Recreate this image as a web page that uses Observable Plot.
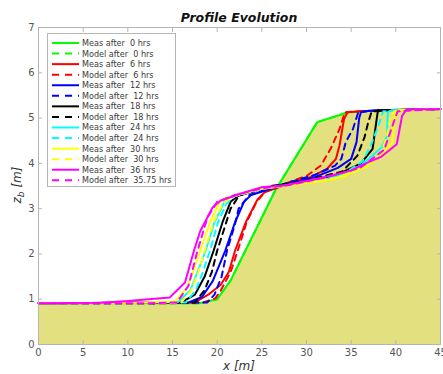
<!DOCTYPE html>
<html><head><meta charset="utf-8">
<script src="https://cdn.jsdelivr.net/npm/d3@7"></script>
<script src="https://cdn.jsdelivr.net/npm/@observablehq/plot@0.6"></script>
<style>body{margin:0;background:#fff;} svg{display:block;}</style>
</head><body><div id="chart"></div>
<script>
const xTicks = [0,5,10,15,20,25,30,35,40,45];
const yTicks = [0,1,2,3,4,5,6,7];
const labels = ["Meas after  0 hrs","Model after  0 hrs","Meas after  6 hrs","Model after  6 hrs","Meas after  12 hrs","Model after  12 hrs","Meas after  18 hrs","Model after  18 hrs","Meas after  24 hrs","Model after  24 hrs","Meas after  30 hrs","Model after  30 hrs","Meas after  36 hrs","Model after  35.75 hrs"];
const colors = ["#00ff00","#00ff00","#ff0000","#ff0000","#0000ff","#0000ff","#000000","#000000","#00ffff","#00ffff","#ffff00","#ffff00","#ff00ff","#ff00ff"];

const meas0 = [[0,0.91],[18,0.91],[20,1.0],[21.5,1.41],[26.5,3.4],[31.2,4.91],[34.7,5.13],[38,5.17],[45,5.2]];
const model0 = [[0,0.91],[18,0.91],[20,1.0],[21.5,1.41],[26.5,3.4],[31.2,4.91],[34.7,5.13],[38,5.17],[45,5.2]];
const meas6 = [[0,0.91],[11,0.92],[17.5,0.93],[19,1.1],[20.4,1.32],[21.3,1.6],[22,2.07],[23.2,2.7],[24.5,3.2],[25.3,3.36],[28,3.55],[30.5,3.7],[32.3,3.88],[33.3,4.1],[33.7,4.4],[34.2,4.98],[34.6,5.13],[36,5.15],[45,5.2]];
const model6 = [[0,0.91],[14,0.91],[18.5,0.93],[19.8,1.02],[20.4,1.19],[21.5,1.6],[22.3,2.07],[23.3,2.7],[24.4,3.15],[25.4,3.38],[28,3.58],[30,3.72],[31.6,3.95],[32.7,4.32],[33.7,4.76],[34.3,5.13],[36,5.15],[45,5.2]];
const meas12 = [[0,0.91],[11,0.92],[16.8,0.93],[18.3,1.05],[19.5,1.4],[20.9,2.07],[22.0,2.7],[23.0,3.15],[23.8,3.3],[27,3.5],[31,3.7],[33.5,3.9],[35,4.1],[35.6,4.47],[35.9,5.0],[36.1,5.13],[37,5.16],[45,5.2]];
const model12 = [[0,0.91],[12,0.91],[18.9,0.93],[19.7,1.1],[20.5,1.5],[21.1,2.07],[22.0,2.66],[22.4,3.0],[23.6,3.3],[27,3.52],[31,3.75],[33.2,3.95],[33.9,4.1],[34.4,4.47],[35.2,4.76],[35.8,5.13],[37,5.16],[45,5.2]];
const meas18 = [[0,0.91],[11,0.92],[16,0.93],[17.5,1.1],[18.6,1.5],[19.6,2.07],[20.6,2.7],[21.5,3.15],[22.3,3.28],[25.6,3.47],[29.4,3.58],[33.1,3.72],[36.1,4.0],[37.4,4.32],[37.8,4.9],[38.0,5.17],[45,5.2]];
const model18 = [[0,0.91],[12,0.91],[17.5,0.93],[18.6,1.2],[19.4,1.6],[20.0,2.07],[20.7,2.5],[21.5,3.0],[22.5,3.3],[26,3.5],[30,3.62],[34,3.82],[35.7,4.17],[36.5,4.58],[36.9,4.9],[37.3,5.15],[45,5.2]];
const meas24 = [[0,0.91],[11,0.92],[15.6,0.94],[17,1.2],[17.8,1.6],[18.7,2.07],[19.7,2.7],[20.8,3.15],[21.6,3.27],[25,3.44],[29,3.55],[33,3.68],[36.1,3.95],[38.4,4.35],[39.0,4.6],[39.1,5.13],[39.5,5.17],[45,5.2]];
const model24 = [[0,0.91],[12,0.91],[16.5,0.93],[17.6,1.2],[18.4,1.6],[19.2,2.07],[20.1,2.7],[21.0,3.1],[22,3.28],[25.5,3.46],[30,3.58],[34,3.75],[36.3,4.05],[37.2,4.4],[38,4.8],[38.6,5.15],[45,5.2]];
const meas30 = [[0,0.91],[11,0.92],[15.3,0.95],[16.6,1.25],[17.3,1.6],[18.1,2.07],[19.2,2.7],[20.2,3.12],[21.0,3.24],[24.5,3.42],[28.5,3.53],[33,3.65],[36.5,3.92],[38.4,4.2],[39.6,4.45],[39.9,5.1],[40.3,5.17],[45,5.2]];
const model30 = [[0,0.91],[12,0.91],[16,0.93],[17.1,1.2],[17.9,1.6],[18.6,2.07],[19.6,2.7],[20.6,3.1],[21.5,3.25],[25,3.44],[29,3.55],[34,3.7],[37,3.95],[38.3,4.2],[39,4.6],[39.4,5.0],[39.8,5.15],[45,5.2]];
const meas36 = [[0,0.91],[7,0.92],[10,0.96],[14.7,1.04],[16.4,1.37],[17.4,2.07],[18.1,2.5],[19.5,3.03],[20.4,3.18],[22.6,3.33],[24.9,3.47],[27.5,3.51],[31.2,3.66],[35,3.84],[36.5,3.99],[38.4,4.15],[40.1,4.42],[40.7,5.05],[41.2,5.19],[45,5.2]];
const model36 = [[0,0.91],[12,0.91],[15.5,0.93],[16.8,1.3],[17.7,2.0],[18.9,2.8],[20,3.15],[22,3.3],[25,3.45],[28,3.52],[32,3.68],[36,3.9],[38.7,4.3],[39.5,4.76],[40.2,5.15],[45,5.2]];

const profiles = [meas0, model0, meas6, model6, meas12, model12, meas18, model18, meas24, model24, meas30, model30, meas36, model36];

const W = 443, H = 374;
const mL = 38, mR = 3, mT = 27, mB = 30;
const gray = "#555";

const lineMarks = profiles.map((p, i) => Plot.line(p, {
  x: d => d[0], y: d => d[1], stroke: colors[i], strokeWidth: 2,
  strokeDasharray: i % 2 === 1 ? "6,5" : null
}));

const chart = Plot.plot({
  width: W, height: H,
  marginLeft: mL, marginRight: mR, marginTop: mT, marginBottom: mB,
  style: {fontFamily: "DejaVu Sans, sans-serif", fontSize: "10px", color: gray, background: "#fff"},
  x: {domain: [0, 45]},
  y: {domain: [0, 7]},
  marks: [
    Plot.areaY(meas0, {x: d => d[0], y: d => d[1], fill: "#e3e07f"}),
    ...lineMarks,
    Plot.frame({stroke: "#b5b5b5", strokeWidth: 1}),
    Plot.axisX(xTicks, {anchor: "bottom", tickSize: -4, tickPadding: 8, stroke: "#b5b5b5", fill: gray, label: null}),
    Plot.axisX(xTicks, {anchor: "top", tickSize: -4, text: null, stroke: "#b5b5b5", label: null}),
    Plot.axisY(yTicks, {anchor: "left", tickSize: -4, tickPadding: 8, stroke: "#b5b5b5", fill: gray, label: null}),
    Plot.axisY(yTicks, {anchor: "right", tickSize: -4, text: null, stroke: "#b5b5b5", label: null})
  ]
});
document.getElementById("chart").appendChild(chart);

const svg = d3.select(chart);
// title and axis labels
svg.append("text").attr("x", 239).attr("y", 22).attr("text-anchor", "middle")
  .attr("font-family", "DejaVu Sans, sans-serif").attr("font-size", 12.5).attr("font-weight", "bold")
  .attr("font-style", "italic").attr("fill", "#111").text("Profile Evolution");
svg.append("text").attr("x", 239).attr("y", 370).attr("text-anchor", "middle")
  .attr("font-family", "DejaVu Sans, sans-serif").attr("font-size", 12).attr("font-style", "italic")
  .attr("fill", "#333").text("x [m]");
const yl = svg.append("text").attr("transform", "translate(21,185) rotate(-90)").attr("text-anchor", "middle")
  .attr("font-family", "DejaVu Sans, sans-serif").attr("font-size", 12).attr("font-style", "italic").attr("fill", "#333");
yl.append("tspan").text("z");
yl.append("tspan").attr("font-size", 9).attr("dy", 3).text("b");
yl.append("tspan").attr("dy", -3).text(" [m]");

// legend
const lg = svg.append("g").attr("text-anchor", "start");
lg.append("rect").attr("x", 47.5).attr("y", 33.5).attr("width", 128).attr("height", 153)
  .attr("fill", "#fff").attr("stroke", "#b5b5b5");
labels.forEach((t, i) => {
  const y = 43 + i * 10.56;
  lg.append("line").attr("x1", 52).attr("x2", 79).attr("y1", y).attr("y2", y)
    .attr("stroke", colors[i]).attr("stroke-width", 2)
    .attr("stroke-dasharray", i % 2 === 1 ? "7,6" : null);
  lg.append("text").attr("x", 82).attr("y", y + 3).attr("text-anchor", "start")
    .attr("font-family", "DejaVu Sans, sans-serif")
    .attr("font-size", 8.1).attr("fill", "#3a3a3a").style("white-space", "pre").text(t);
});
</script></body></html>
